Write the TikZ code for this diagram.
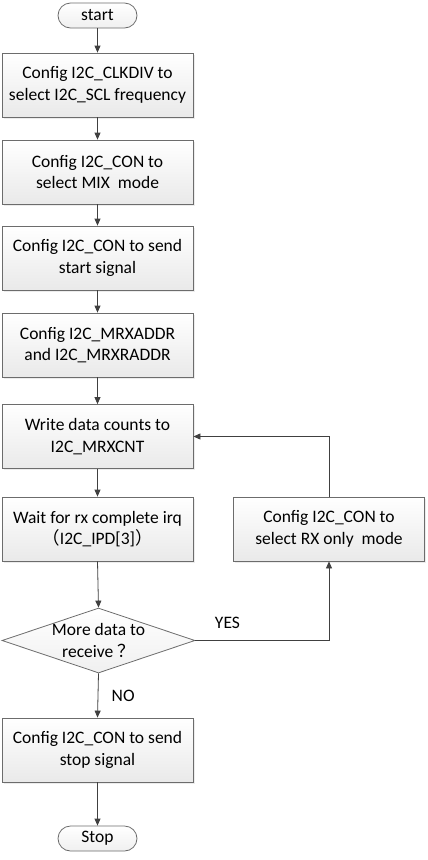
\documentclass[tikz,border=0pt]{standalone}
\usepackage{fontspec}
\setmainfont{Carlito}
\newfontfamily\cjk{Noto Sans CJK SC}
\usetikzlibrary{shapes.geometric,arrows.meta,shadows}

\tikzset{
  stepbox/.style={draw=gray!85!black, line width=0.8pt, top color=white, bottom color=gray!17,
    minimum width=191pt, minimum height=64pt, align=center, inner sep=2pt,
    drop shadow={opacity=0.15, shadow xshift=1.5pt, shadow yshift=-1.5pt}},
  termbox/.style={draw=gray!85!black, line width=0.8pt, top color=white, bottom color=gray!12,
    minimum width=79pt, minimum height=25pt, rounded corners=12.5pt, inner sep=0pt},
  flow/.style={draw=black!75, line width=0.8pt, -{Triangle[length=7pt,width=6pt]}}
}

\begin{document}
\begin{tikzpicture}[x=1pt,y=-1pt,font=\fontsize{17.5}{21.5}\selectfont]
\useasboundingbox (0,0) rectangle (428,860);

\node[termbox] (start) at (97.5,15.5) {start};
\node[stepbox] (clk) at (97.5,85) {Config I2C\_CLKDIV to\\select I2C\_SCL frequency};
\node[stepbox] (mix) at (97.5,172) {Config I2C\_CON to\\select MIX\ \ mode};
\node[stepbox] (sig) at (97.5,258) {Config I2C\_CON to send\\start signal};
\node[stepbox] (addr) at (97.5,345) {Config I2C\_MRXADDR\\and I2C\_MRXRADDR};
\node[stepbox] (cnt) at (97.5,436.5) {Write data counts to\\I2C\_MRXCNT};
\node[stepbox] (wait) at (97.5,529) {Wait for rx complete irq\\{\cjk （}I2C\_IPD[3]{\cjk ）}};
\node[stepbox] (rx) at (329,529) {Config I2C\_CON to\\select RX only\ \ mode};

% decision
\node[diamond, draw=gray!85!black, line width=0.8pt, top color=white, bottom color=gray!12,
  minimum width=193pt, minimum height=65pt, inner sep=0pt] (more) at (98.5,640.5) {};
\node[align=center] (moretext) at (98.5,640.5) {More data to\\receive {\cjk ？}};

\node[stepbox] (stop sig) at (97.5,750) {Config I2C\_CON to send\\stop signal};
\node[termbox] (stop) at (97.5,838.5) {Stop};

\draw[flow] (start) -- (clk);
\draw[flow] (clk) -- (mix);
\draw[flow] (mix) -- (sig);
\draw[flow] (sig) -- (addr);
\draw[flow] (addr) -- (cnt);
\draw[flow] (cnt) -- (wait);
\draw[flow] (wait.south) -- (more.north);
\draw[flow] (more.east) -| (rx.south) node[pos=0.12, above=8pt] (yes) {YES};
\draw[flow] (rx.north) |- (cnt.east);
\draw[flow] (more.south) -- (stop sig.north) node[midway, right=10pt] (no) {NO};
\draw[flow] (stop sig) -- (stop);

\end{tikzpicture}
\end{document}
